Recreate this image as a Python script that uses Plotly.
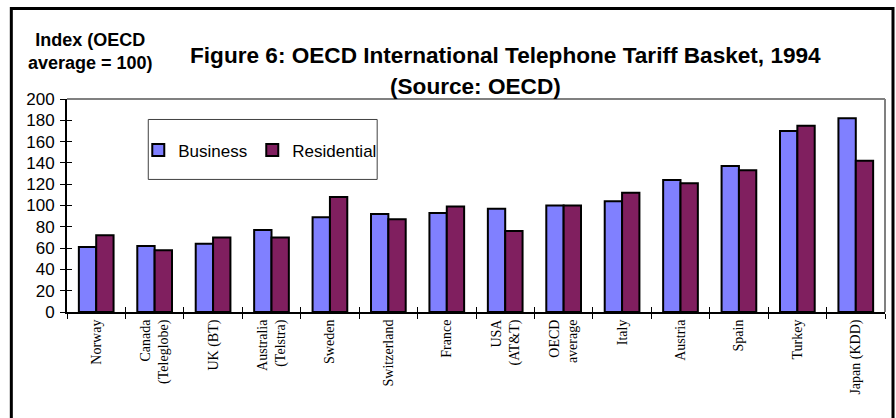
import plotly.graph_objects as go

categories = ["Norway", "Canada<br>(Teleglobe)", "UK (BT)", "Australia<br>(Telstra)", "Sweden",
              "Switzerland", "France", "USA<br>(AT&T)", "OECD<br>average", "Italy", "Austria",
              "Spain", "Turkey", "Japan (KDD)"]
business = [61, 62, 64, 77, 89, 92, 93, 97, 100, 104, 124, 137, 170, 182]
residential = [72, 58, 70, 70, 108, 87, 99, 76, 100, 112, 121, 133, 175, 142]
y_ticks = [0, 20, 40, 60, 80, 100, 120, 140, 160, 180, 200]

W, H = 896, 418
L, R, T, B = 66.7, 885.0, 98.5, 311.7

def px(x):
    return (x - L) / (R - L)

def py(y):
    return (B - y) / (B - T)

SANS = "Liberation Sans, Arial, sans-serif"
SERIF = "Liberation Serif, Times New Roman, serif"

fig = go.Figure()
fig.add_trace(go.Bar(x=categories, y=business, name="Business",
                     marker=dict(color="#8080FF", line=dict(color="black", width=2))))
fig.add_trace(go.Bar(x=categories, y=residential, name="Residential",
                     marker=dict(color="#801F5F", line=dict(color="black", width=2))))
# invisible helper trace to activate the second (tick) axes
fig.add_trace(go.Bar(x=categories, y=[None] * len(categories), xaxis="x2", yaxis="y2",
                     showlegend=False, hoverinfo="skip"))

fig.update_layout(
    width=W, height=H,
    margin=dict(l=L, r=W - R, t=T, b=H - B, autoexpand=False),
    paper_bgcolor="white", plot_bgcolor="white",
    barmode="group", bargap=0.406, bargroupgap=0,
    showlegend=True,
    legend=dict(orientation="h", x=px(138), y=py(150), xanchor="left", yanchor="middle",
                font=dict(family=SANS, size=17, color="black"),
                bgcolor="rgba(0,0,0,0)", borderwidth=0, itemclick=False),
    font=dict(family=SANS, color="black"),
)
fig.update_layout(
    xaxis=dict(type="category", showline=True, linecolor="black", linewidth=2,
               ticks="outside", tickson="boundaries", ticklen=5, tickcolor="black", tickwidth=1,
               tickangle=-90, tickfont=dict(family=SERIF, size=14, color="black"),
               showgrid=False, zeroline=False, fixedrange=True),
    yaxis=dict(range=[0, 200], tickvals=y_ticks, showline=True, linecolor="black", linewidth=2,
               ticks="outside", ticklen=5, tickcolor="black", tickwidth=1, ticklabelstandoff=2,
               tickfont=dict(family=SANS, size=17, color="black"),
               showgrid=False, zeroline=False, fixedrange=True),
    xaxis2=dict(type="category", overlaying="x", side="bottom", anchor="y2",
                categoryarray=categories, categoryorder="array",
                ticks="inside", tickson="boundaries", ticklen=5, tickcolor="black", tickwidth=1,
                showticklabels=False, showgrid=False, zeroline=False, showline=False, fixedrange=True),
    yaxis2=dict(range=[0, 200], tickvals=y_ticks, overlaying="y", side="left", anchor="x2",
                ticks="inside", ticklen=5, tickcolor="black", tickwidth=1,
                showticklabels=False, showgrid=False, zeroline=False, showline=False, fixedrange=True),
)

shapes = [
    # plot area top and right border (grey)
    dict(type="line", xref="paper", yref="paper", x0=0, x1=1, y0=1, y1=1,
         line=dict(color="#808080", width=2)),
    dict(type="line", xref="paper", yref="paper", x0=1, x1=1, y0=0, y1=1,
         line=dict(color="#808080", width=2)),
    # legend box
    dict(type="rect", xref="paper", yref="paper", x0=px(148), x1=px(377), y0=py(179), y1=py(119),
         line=dict(color="#404040", width=1)),
    # outer frame
    dict(type="rect", xref="paper", yref="paper", x0=px(11), x1=px(893), y0=py(440), y1=py(8),
         line=dict(color="black", width=3)),
]
fig.update_layout(shapes=shapes)

fig.add_annotation(text="<b>Figure 6: OECD International Telephone Tariff Basket, 1994</b>",
                   xref="paper", yref="paper", x=px(505), y=py(55), xanchor="center", yanchor="middle",
                   showarrow=False, font=dict(family=SANS, size=22.6, color="black"))
fig.add_annotation(text="<b>(Source: OECD)</b>",
                   xref="paper", yref="paper", x=px(475), y=py(86), xanchor="center", yanchor="middle",
                   showarrow=False, font=dict(family=SANS, size=22.6, color="black"))
fig.add_annotation(text="<b>Index (OECD<br>average = 100)</b>",
                   xref="paper", yref="paper", x=px(90), y=py(51), xanchor="center", yanchor="middle",
                   showarrow=False, align="center", font=dict(family=SANS, size=18, color="black"))

fig.write_html("out.html", config={"displayModeBar": False},
               post_script="document.body.style.margin='0';document.body.style.overflow='hidden';")
